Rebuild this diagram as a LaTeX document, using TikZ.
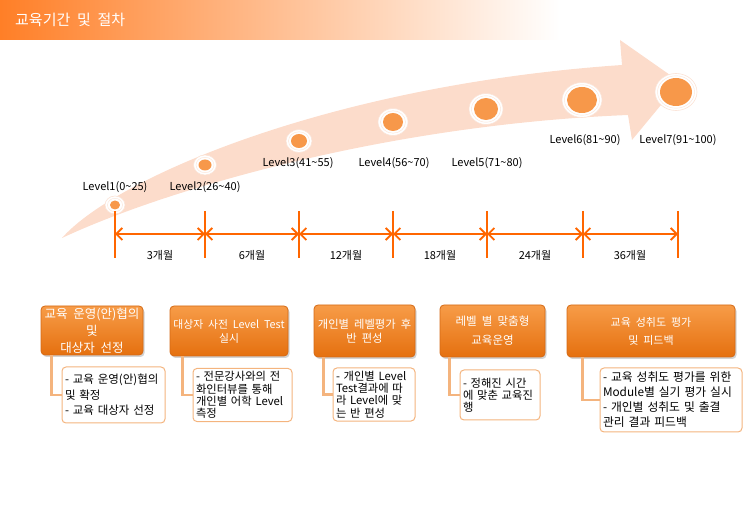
\documentclass[tikz,border=0pt]{standalone}
\usepackage{fontspec}
\setmainfont{Noto Sans CJK KR}[WordSpace=2]
\usetikzlibrary{arrows.meta,shadows}
\definecolor{hdr}{HTML}{FF7F27}
\definecolor{band}{HTML}{FCDCCB}
\definecolor{dot}{HTML}{F7984A}
\definecolor{ringline}{HTML}{FBE3D6}
\definecolor{tl}{HTML}{FF6600}
\definecolor{boxtop}{HTML}{F79C48}
\definecolor{boxbot}{HTML}{E5700F}
\definecolor{boxedge}{HTML}{D46A16}
\definecolor{subedge}{HTML}{F4B47E}
\tikzset{
  lvl/.style={font=\fontsize{11}{13}\selectfont, inner sep=0pt},
  ticklbl/.style={font=\fontsize{11}{13}\selectfont, inner sep=0pt},
  tick/.style={draw=tl, line width=2pt},
  tlarrow/.style={draw=tl, line width=1.8pt, {Straight Barb[length=6pt,width=12pt]}-{Straight Barb[length=6pt,width=12pt]}},
  titlebox/.style={draw=boxedge, line width=0.8pt, rounded corners=4pt,
     top color=boxtop, bottom color=boxbot, text=white, align=center,
     font=\fontsize{10.5}{15}\selectfont, inner sep=1pt,
     drop shadow={opacity=0.35, shadow xshift=1.5pt, shadow yshift=-2pt}},
  subbox/.style={draw=subedge, line width=1pt, rounded corners=4pt, fill=white,
     align=left, inner sep=3pt},
  conn/.style={draw=subedge, line width=2.5pt},
}
\begin{document}
\begin{tikzpicture}[x=1pt,y=-1pt]
\useasboundingbox (0,0) rectangle (750,510);
% header
\shade[left color=hdr, right color=white] (0,0) rectangle (560,40);
\node[anchor=west, text=white, font=\fontsize{15}{18}\selectfont, inner sep=0pt] (title) at (15,20) {교육기간 및 절차};
% big curved arrow
\fill[band] (62,238) .. controls (115,178) and (330,85) .. (622,65)
  -- (620,40) -- (680,82) -- (632,140) -- (628,115)
  .. controls (380,125) and (160,192) .. (62,238) -- cycle;
% level dots
\foreach \x/\y/\rx/\ry in {115/205/5/4.5, 205/165/6.5/5.5, 299/141/8/7, 393/122/10/9, 486/109/12/11, 582/100/15/13, 676/92/16/14}{
  \path[fill=white, draw=ringline, line width=0.6pt] (\x,\y) ellipse [x radius=\rx+5, y radius=\ry+4.5];
  \path[fill=white, draw=ringline, line width=0.4pt] (\x,\y) ellipse [x radius=\rx+2.5, y radius=\ry+2.2];
  \fill[dot] (\x,\y) ellipse [x radius=\rx, y radius=\ry];
}
% level labels
\node[lvl] (l1) at (115,187) {Level1(0\textasciitilde 25)};
\node[lvl] (l2) at (205,187) {Level2(26\textasciitilde 40)};
\node[lvl] (l3) at (298,163) {Level3(41\textasciitilde 55)};
\node[lvl] (l4) at (394,163) {Level4(56\textasciitilde 70)};
\node[lvl] (l5) at (487,163) {Level5(71\textasciitilde 80)};
\node[lvl] (l6) at (585,140) {Level6(81\textasciitilde 90)};
\node[lvl] (l7) at (678,140) {Level7(91\textasciitilde 100)};
% timeline
\foreach \i/\x in {1/115,2/205,3/299,4/393,5/487,6/583,7/678}{
  \coordinate (t\i) at (\x,234);
  \coordinate (ta\i) at (\x,211);
  \coordinate (tb\i) at (\x,258);
  \draw[tick] (ta\i) -- (tb\i);
}
\draw[tlarrow] (t1) -- (t2);
\draw[tlarrow] (t2) -- (t3);
\draw[tlarrow] (t3) -- (t4);
\draw[tlarrow] (t4) -- (t5);
\draw[tlarrow] (t5) -- (t6);
\draw[tlarrow] (t6) -- (t7);
\node[ticklbl] (m1) at (160,255) {3개월};
\node[ticklbl] (m2) at (252,255) {6개월};
\node[ticklbl] (m3) at (346,255) {12개월};
\node[ticklbl] (m4) at (440,255) {18개월};
\node[ticklbl] (m5) at (535,255) {24개월};
\node[ticklbl] (m6) at (630,255) {36개월};
% title boxes
\node[titlebox, minimum width=102pt, minimum height=49pt, font=\fontsize{12.5}{17}\selectfont] (b1) at (92,330.5) {교육 운영(안)협의\\및\\대상자 선정};
\node[titlebox, minimum width=118pt, minimum height=50pt, font=\fontsize{10.8}{14}\selectfont] (b2) at (229,331) {대상자 사전 Level Test\\실시};
\node[titlebox, minimum width=101pt, minimum height=52pt, font=\fontsize{11.3}{14}\selectfont] (b3) at (364.5,331) {개인별 레벨평가 후\\반 편성};
\node[titlebox, minimum width=105pt, minimum height=52pt, font=\fontsize{11.5}{19}\selectfont] (b4) at (492.5,331) {레벨 별 맞춤형\\교육운영};
\node[titlebox, minimum width=168pt, minimum height=52pt, font=\fontsize{11}{18}\selectfont] (b5) at (651,331) {교육 성취도 평가\\및 피드백};
% sub boxes
\node[subbox, text width=97pt, minimum height=56pt, font=\fontsize{11.5}{15.5}\selectfont] (s1) at (113.5,395) {- 교육 운영(안)협의\\및 확정\\- 교육 대상자 선정};
\node[subbox, text width=93pt, minimum height=50pt, font=\fontsize{11.3}{12.3}\selectfont] (s2) at (242.5,395) {- 전문강사와의 전\\화인터뷰를 통해\\개인별 어학 Level\\측정};
\node[subbox, text width=76pt, minimum height=51pt, font=\fontsize{11.3}{12.3}\selectfont] (s3) at (374,394.5) {- 개인별 Level\\Test결과에 따\\라 Level에 맞\\는 반 편성};
\node[subbox, text width=74pt, minimum height=50pt, font=\fontsize{11.3}{12}\selectfont] (s4) at (500,395) {- 정해진 시간\\에 맞춘 교육진\\행};
\node[subbox, text width=136pt, minimum height=64pt, font=\fontsize{11.8}{15}\selectfont] (s5) at (671,400) {- 교육 성취도 평가를 위한\\Module별 실기 평가 실시\\- 개인별 성취도 및 출결\\관리 결과 피드백};
% connectors
\draw[conn] ([xshift=11pt]b1.south west) |- (s1.west);
\draw[conn] ([xshift=13pt]b2.south west) |- (s2.west);
\draw[conn] ([xshift=10pt]b3.south west) |- (s3.west);
\draw[conn] ([xshift=10pt]b4.south west) |- (s4.west);
\draw[conn] ([xshift=16pt]b5.south west) |- (s5.west);
\end{tikzpicture}
\end{document}
